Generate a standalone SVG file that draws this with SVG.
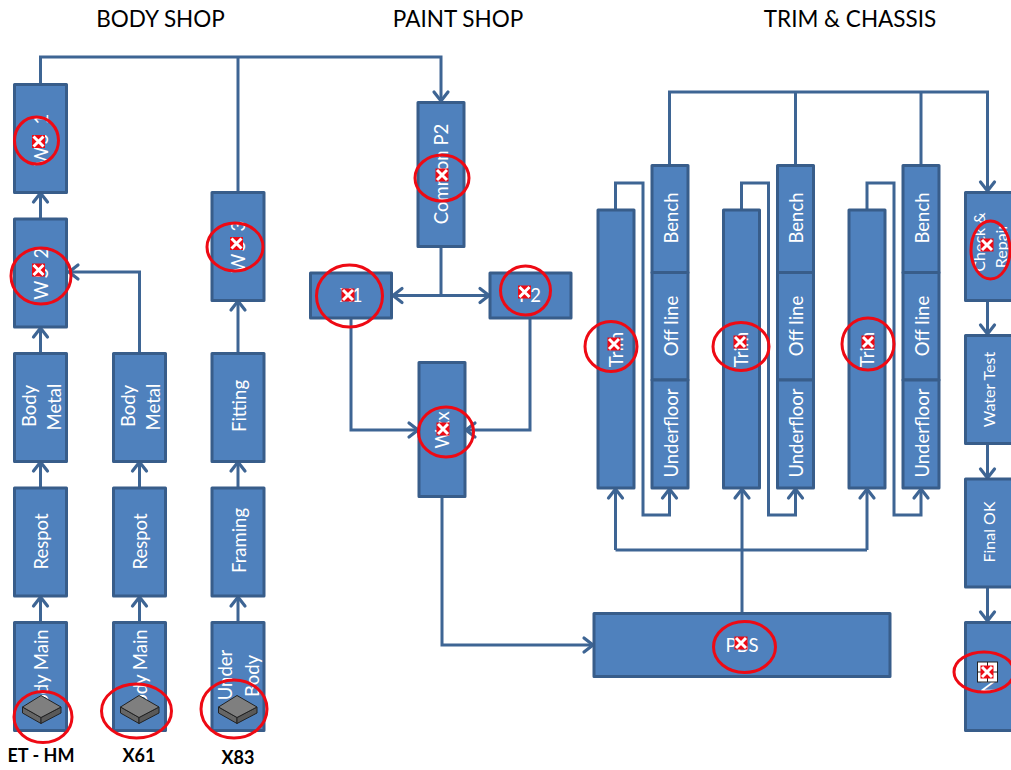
<svg xmlns="http://www.w3.org/2000/svg" xmlns:xlink="http://www.w3.org/1999/xlink" width="1011" height="770" viewBox="0 0 1011 770">
<style>
text{font-family:"Lato","Open Sans","Liberation Sans",sans-serif}
.h{font-size:22.500px;fill:#000;text-anchor:middle}
.b{font-size:18px;font-weight:700;fill:#000;text-anchor:middle}
.t{font-size:18.500px;fill:#fff;text-anchor:middle}
.w{letter-spacing:2.500px}
.s{font-size:16px;fill:#fff;text-anchor:middle}
.n{fill:#4f81bd;stroke:#385d8a;stroke-width:3;stroke-linejoin:round}
.c{fill:none;stroke:#3e6594;stroke-width:3}
.a{marker-end:url(#arr)}
.r{fill:none;stroke:#ee0a14;stroke-width:3}
.top{fill:#7f7f7f;stroke:#222;stroke-width:1}
.l{fill:#666;stroke:#222;stroke-width:1}
.d{fill:#595959;stroke:#222;stroke-width:1}
</style>
<defs>
<marker id="arr" markerUnits="userSpaceOnUse" markerWidth="20" markerHeight="20" refX="15" refY="10" orient="auto">
<path d="M5 3 L14 10 L5 17" fill="none" stroke="#3e6594" stroke-width="3.200" stroke-linecap="round"/>
</marker>
<g id="x">
<rect x="-6.500" y="-6.500" width="13" height="13" fill="#ee0a14"/>
<path d="M-5-5L5 5M5-5L-5 5" stroke="#fff" stroke-width="3" fill="none"/>
</g>
<g id="box">
<path class="l" d="M-18.500 11.500L0 22V28L-18.500 17.500Z"/>
<path class="d" d="M20 11.500L0 22V28L20 17.500Z"/>
<path class="top" d="M0 0L20 11.500L0 22L-18.500 11.500Z"/>
</g>
</defs>
<rect width="1011" height="770" fill="#fff"/>
<g id="headers">
<text class="h" x="160.500" y="27">BODY SHOP</text>
<text class="h" x="458" y="27">PAINT SHOP</text>
<text class="h" x="850" y="27">TRIM &amp; CHASSIS</text>
</g>
<g id="connectors">
<path class="c a" d="M40.500 84V57H441V102"/>
<path class="c" d="M238 192V57"/>
<path class="c a" d="M40.500 219V192"/>
<path class="c a" d="M40.500 353V327"/>
<path class="c a" d="M40.500 488V461"/>
<path class="c a" d="M40.500 622V596"/>
<path class="c a" d="M139.500 353V272H68"/>
<path class="c a" d="M139.500 488V461"/>
<path class="c a" d="M139.500 622V596"/>
<path class="c a" d="M238 353V300"/>
<path class="c a" d="M238 488V461"/>
<path class="c a" d="M238 622V596"/>
<path class="c" d="M441 246V295"/>
<path class="c a" d="M441 295.500H392"/>
<path class="c a" d="M441 295.500H490"/>
<path class="c a" d="M351 318V430H419"/>
<path class="c a" d="M530 318V430H465"/>
<path class="c a" d="M442 497V645H594"/>
<path class="c a" d="M742 613V488"/>
<path class="c a" d="M615.500 550V488"/>
<path class="c a" d="M867 550V488"/>
<path class="c" d="M615.500 550H867"/>
<path class="c a" d="M615.500 210V183H643V515H669.500V488"/>
<path class="c a" d="M741.500 210V183H768.500V515H795.500V488"/>
<path class="c a" d="M867 210V183H894V515H921V488"/>
<path class="c a" d="M669.500 165V92H987.500V192"/>
<path class="c" d="M795.500 165V92"/>
<path class="c" d="M921 165V92"/>
<path class="c a" d="M987.500 300V335"/>
<path class="c a" d="M987.500 443V479"/>
<path class="c a" d="M987.500 587V622"/>
</g>
<g id="ws1"><rect class="n" x="14.500" y="84.500" width="52" height="108"/><text class="t w" transform="translate(48 138.500) rotate(-90)">WS 1</text><use xlink:href="#x" href="#x" x="38.500" y="141.500"/><ellipse class="r" cx="36.500" cy="140.500" rx="22" ry="23.500"/></g>
<g id="ws2"><rect class="n" x="14.500" y="219" width="52" height="108"/><text class="t w" transform="translate(48 272.500) rotate(-90)">WS 2</text><use xlink:href="#x" href="#x" x="38.500" y="270"/><ellipse class="r" cx="41" cy="276" rx="30" ry="28"/></g>
<g id="bm1"><rect class="n" x="14.500" y="353.500" width="52" height="108"/><text class="t" transform="translate(36 406) rotate(-90)">Body</text><text class="t" transform="translate(61 407) rotate(-90)">Metal</text></g>
<g id="respot1"><rect class="n" x="14.500" y="488" width="52" height="108"/><text class="t" transform="translate(48 541.500) rotate(-90)">Respot</text></g>
<g id="bodymain1"><rect class="n" x="14.500" y="622.500" width="52" height="108"/><text class="t" transform="translate(48 673) rotate(-90)">Body Main</text><use xlink:href="#box" href="#box" x="41" y="695.500"/><ellipse class="r" cx="43" cy="717" rx="29" ry="25.500"/></g>
<g id="bm2"><rect class="n" x="113.500" y="353.500" width="52" height="108"/><text class="t" transform="translate(135 406) rotate(-90)">Body</text><text class="t" transform="translate(160 407) rotate(-90)">Metal</text></g>
<g id="respot2"><rect class="n" x="113.500" y="488" width="52" height="108"/><text class="t" transform="translate(147 541.500) rotate(-90)">Respot</text></g>
<g id="bodymain2"><rect class="n" x="113.500" y="622.500" width="52" height="108"/><text class="t" transform="translate(147 673) rotate(-90)">Body Main</text><use xlink:href="#box" href="#box" x="139" y="695.500"/><ellipse class="r" cx="136.500" cy="711" rx="35" ry="27"/></g>
<g id="ws3"><rect class="n" x="212" y="192.500" width="52" height="108"/><text class="t w" transform="translate(245 245.500) rotate(-90)">WS 3</text><use xlink:href="#x" href="#x" x="236.500" y="243.500"/><ellipse class="r" cx="235" cy="247" rx="28" ry="24"/></g>
<g id="fitting"><rect class="n" x="212" y="353.500" width="52" height="108"/><text class="t" transform="translate(245.500 406) rotate(-90)">Fitting</text></g>
<g id="framing"><rect class="n" x="212" y="488" width="52" height="108"/><text class="t" transform="translate(245.500 540.500) rotate(-90)">Framing</text></g>
<g id="underbody"><rect class="n" x="212" y="622.500" width="52" height="108"/><text class="t" transform="translate(232 675) rotate(-90)">Under</text><text class="t" transform="translate(259 676) rotate(-90)">Body</text><use xlink:href="#box" href="#box" x="237" y="695.500"/><ellipse class="r" cx="234" cy="709" rx="33" ry="29"/></g>
<g id="commonp2"><rect class="n" x="418" y="102.500" width="46" height="144"/><text class="t" transform="translate(448 174) rotate(-90)">Common P2</text><use xlink:href="#x" href="#x" x="442" y="175"/><ellipse class="r" cx="442" cy="178" rx="27" ry="23"/></g>
<g id="x1"><rect class="n" x="310.500" y="273" width="81" height="45"/><text class="t" x="351" y="302">X1</text><use xlink:href="#x" href="#x" x="348" y="295"/><ellipse class="r" cx="349.500" cy="296" rx="33" ry="31"/></g>
<g id="p2"><rect class="n" x="490" y="273" width="81" height="45"/><text class="t" x="530" y="302">P2</text><use xlink:href="#x" href="#x" x="524.500" y="292"/><ellipse class="r" cx="525.500" cy="290.500" rx="25" ry="24.500"/></g>
<g id="wxx"><rect class="n" x="419" y="362.500" width="46" height="134"/><text class="t" transform="translate(449 430) rotate(-90)">Wxx</text><use xlink:href="#x" href="#x" x="443" y="429"/><ellipse class="r" cx="446" cy="432" rx="27.500" ry="25"/></g>
<g id="pbs"><rect class="n" x="594" y="613.500" width="296" height="63"/><text class="t" x="742" y="652">PBS</text><use xlink:href="#x" href="#x" x="741" y="643"/><ellipse class="r" cx="744.500" cy="647" rx="31" ry="25.500"/></g>
<g id="trim1"><rect class="n" x="598" y="210" width="36" height="278"/><text class="t" transform="translate(623 349.500) rotate(-90)">Trim</text><use xlink:href="#x" href="#x" x="614" y="344"/><ellipse class="r" cx="611" cy="346.500" rx="26" ry="25"/></g>
<g id="stack1"><rect class="n" x="652" y="165.500" width="36" height="107"/><rect class="n" x="652" y="272.500" width="36" height="107.500"/><rect class="n" x="652" y="380" width="36" height="108"/><text class="t" transform="translate(677.500 218) rotate(-90)">Bench</text><text class="t" transform="translate(677.500 326) rotate(-90)">Off line</text><text class="t" transform="translate(677.500 433) rotate(-90)">Underfloor</text></g>
<g id="trim2"><rect class="n" x="723.500" y="210" width="36" height="278"/><text class="t" transform="translate(748 349.500) rotate(-90)">Trim</text><use xlink:href="#x" href="#x" x="740" y="342"/><ellipse class="r" cx="741" cy="346.500" rx="28" ry="24"/></g>
<g id="stack2"><rect class="n" x="777.500" y="165.500" width="36" height="107"/><rect class="n" x="777.500" y="272.500" width="36" height="107.500"/><rect class="n" x="777.500" y="380" width="36" height="108"/><text class="t" transform="translate(803 218) rotate(-90)">Bench</text><text class="t" transform="translate(803 326) rotate(-90)">Off line</text><text class="t" transform="translate(803 433) rotate(-90)">Underfloor</text></g>
<g id="trim3"><rect class="n" x="849" y="210" width="36" height="278"/><text class="t" transform="translate(874 349.500) rotate(-90)">Trim</text><use xlink:href="#x" href="#x" x="868" y="342"/><ellipse class="r" cx="868" cy="344" rx="26" ry="26"/></g>
<g id="stack3"><rect class="n" x="903" y="165.500" width="36" height="107"/><rect class="n" x="903" y="272.500" width="36" height="107.500"/><rect class="n" x="903" y="380" width="36" height="108"/><text class="t" transform="translate(928.500 218) rotate(-90)">Bench</text><text class="t" transform="translate(928.500 326) rotate(-90)">Off line</text><text class="t" transform="translate(928.500 433) rotate(-90)">Underfloor</text></g>
<g id="check"><rect class="n" x="965.500" y="192.500" width="52" height="108"/><text class="s" transform="translate(985 242) rotate(-90)">Check &amp;</text><text class="s" transform="translate(1007 246) rotate(-90)">Repair</text><use xlink:href="#x" href="#x" x="987" y="245"/><ellipse class="r" cx="990.500" cy="250" rx="19.500" ry="29"/></g>
<g id="watertest"><rect class="n" x="965.500" y="335.500" width="52" height="108"/><text class="s" transform="translate(995 389.500) rotate(-90)">Water Test</text></g>
<g id="finalok"><rect class="n" x="965.500" y="479" width="52" height="108"/><text class="s" transform="translate(995 532) rotate(-90)">Final OK</text></g>
<g id="nn"><rect class="n" x="965.500" y="622.500" width="52" height="108"/><text class="t" transform="translate(995 686) rotate(-90)">N</text><rect x="977.500" y="662" width="20" height="20" fill="#fff" stroke="#222"/><path d="M987.500 662V682M977.500 672H997.500" stroke="#222" fill="none"/><use xlink:href="#x" href="#x" x="987" y="672"/><ellipse class="r" cx="984" cy="672" rx="30" ry="20"/></g>
<g id="labels">
<text class="b" x="41" y="762">ET - HM</text>
<text class="b" x="139" y="762">X61</text>
<text class="b" x="238" y="764">X83</text>
</g>
</svg>
